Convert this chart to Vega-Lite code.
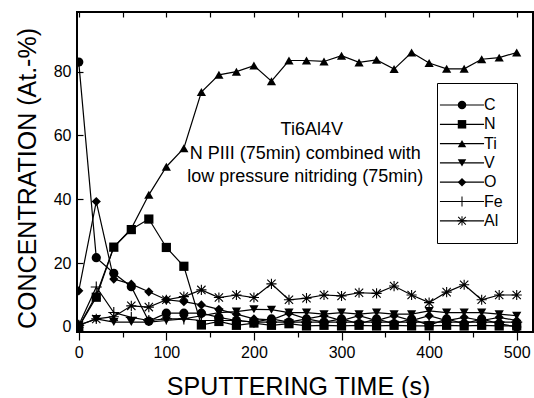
{
  "$schema": "https://vega.github.io/schema/vega-lite/v6.json",
  "width": 456,
  "height": 320,
  "autosize": {"type": "none"},
  "padding": {"left": 77, "top": 12, "right": 1, "bottom": 66},
  "background": "white",
  "config": {
    "font": "Liberation Sans",
    "view": {"stroke": "black", "strokeWidth": 2},
    "axis": {"domain": false, "grid": false, "labelColor": "black", "labelFontSize": 16, "labelFont": "Liberation Sans", "tickColor": "black", "tickWidth": 1.2, "titleColor": "black", "titleFont": "Liberation Sans", "titleFontWeight": "normal", "titleFontSize": 25}
  },
  "datasets": {
    "prof": [
      {"t": 0, "C": 83, "N": 0, "Ti": 0, "V": 0.5, "O": 11.3, "Fe": 0.5, "Al": 0.5},
      {"t": 20, "C": 21.7, "N": 9.3, "Ti": 10, "V": 2.5, "O": 39.3, "Fe": 12.5, "Al": 2.5},
      {"t": 40, "C": 16.8, "N": 25, "Ti": 25, "V": 1.5, "O": 15, "Fe": 4.5, "Al": 3.2},
      {"t": 60, "C": 12.6, "N": 30.5, "Ti": 30.8, "V": 1.5, "O": 13.4, "Fe": 3, "Al": 6.6},
      {"t": 80, "C": 1.8, "N": 33.8, "Ti": 41.4, "V": 1.5, "O": 11, "Fe": 2, "Al": 6.2},
      {"t": 100, "C": 4.3, "N": 24.9, "Ti": 50.2, "V": 2, "O": 8.5, "Fe": 2.5, "Al": 8.5},
      {"t": 120, "C": 4.3, "N": 19, "Ti": 56, "V": 2.5, "O": 7.9, "Fe": 2.5, "Al": 9.5},
      {"t": 140, "C": 4.3, "N": 0.6, "Ti": 73.6, "V": 3.5, "O": 6.9, "Fe": 2, "Al": 11.6},
      {"t": 160, "C": 3, "N": 1.7, "Ti": 79, "V": 4.5, "O": 5.5, "Fe": 2, "Al": 9.2},
      {"t": 180, "C": 2, "N": 0.5, "Ti": 80, "V": 4.8, "O": 4, "Fe": 2, "Al": 10},
      {"t": 200, "C": 1.5, "N": 1.2, "Ti": 81.9, "V": 5.5, "O": 2.5, "Fe": 1.5, "Al": 9.2},
      {"t": 220, "C": 2.5, "N": 0.5, "Ti": 77, "V": 5.4, "O": 2.2, "Fe": 1.5, "Al": 13.5},
      {"t": 240, "C": 1.5, "N": 1, "Ti": 83.5, "V": 4.5, "O": 4.3, "Fe": 1.5, "Al": 8.5},
      {"t": 260, "C": 2.5, "N": 0.3, "Ti": 83.5, "V": 4.5, "O": 2.5, "Fe": 1.5, "Al": 9},
      {"t": 280, "C": 1.5, "N": 0.5, "Ti": 83.2, "V": 4, "O": 3.5, "Fe": 1.5, "Al": 10},
      {"t": 300, "C": 2.5, "N": 0.3, "Ti": 85, "V": 4.5, "O": 2, "Fe": 1.5, "Al": 9.7},
      {"t": 320, "C": 1, "N": 0.5, "Ti": 82.9, "V": 4, "O": 3.5, "Fe": 1.5, "Al": 10.7},
      {"t": 340, "C": 2.5, "N": 0.3, "Ti": 83.7, "V": 4.5, "O": 2, "Fe": 1.5, "Al": 10.5},
      {"t": 360, "C": 1, "N": 0.5, "Ti": 80.8, "V": 4, "O": 3.5, "Fe": 1.5, "Al": 12.8},
      {"t": 380, "C": 2.5, "N": 0.3, "Ti": 86, "V": 4, "O": 2, "Fe": 1.5, "Al": 10},
      {"t": 400, "C": 0.5, "N": 0.3, "Ti": 82.7, "V": 5, "O": 3.5, "Fe": 1.5, "Al": 7.6},
      {"t": 420, "C": 2.5, "N": 0.5, "Ti": 80.9, "V": 4.5, "O": 2, "Fe": 1.5, "Al": 10.9},
      {"t": 440, "C": 1, "N": 0.3, "Ti": 80.9, "V": 4.5, "O": 3, "Fe": 1.5, "Al": 13.2},
      {"t": 460, "C": 2.5, "N": 0.5, "Ti": 83.9, "V": 4.5, "O": 2, "Fe": 1.5, "Al": 8.5},
      {"t": 480, "C": 1, "N": 0.3, "Ti": 84.4, "V": 4, "O": 3, "Fe": 1.5, "Al": 10},
      {"t": 500, "C": 0, "N": 0.3, "Ti": 86, "V": 3.5, "O": 2, "Fe": 1.5, "Al": 10}
    ],
    "note": [
      {"x": 266, "y": 61.8, "txt": "Ti6Al4V"},
      {"x": 258.5, "y": 54.2, "txt": "N PIII (75min) combined with"},
      {"x": 258.5, "y": 47.1, "txt": "low pressure nitriding (75min)"}
    ]
  },
  "layer": [
    {
      "data": {"name": "prof"},
      "transform": [{"fold": ["C", "N", "Ti", "V", "O", "Fe", "Al"], "as": ["series", "v"]}],
      "mark": {"type": "line", "strokeWidth": 1.2, "clip": true},
      "encoding": {
        "x": {"field": "t", "type": "quantitative", "scale": {"domain": [-2, 518.6], "nice": false, "zero": false},
          "axis": {"orient": "bottom", "values": [0, 50, 100, 150, 200, 250, 300, 350, 400, 450, 500],
            "labelExpr": "datum.value % 100 === 0 ? datum.label : ''",
            "tickSize": {"condition": {"test": "datum.value % 100 === 0", "value": 8}, "value": 5},
            "labelPadding": 4, "title": "SPUTTERING TIME (s)", "titlePadding": 14, "titleX": 221}},
        "y": {"field": "v", "type": "quantitative", "scale": {"domain": [-1.6, 98.7], "nice": false, "zero": false},
          "axis": {"orient": "left", "values": [0, 10, 20, 30, 40, 50, 60, 70, 80, 90],
            "labelExpr": "datum.value % 20 === 0 ? datum.label : ''",
            "tickSize": {"condition": {"test": "datum.value % 20 === 0", "value": -6}, "value": -4},
            "labelPadding": 12, "title": "CONCENTRATION (At.-%)", "titlePadding": 13, "titleY": 166}},
        "color": {"field": "series", "type": "nominal", "sort": ["C", "N", "Ti", "V", "O", "Fe", "Al"],
          "scale": {"range": ["black"]},
          "legend": {"orient": "none", "legendX": 360, "legendY": 71, "padding": 14, "title": null,
            "symbolType": "M-5.2,0H5.2", "symbolSize": 72, "symbolOffset": 3, "symbolStrokeColor": "black", "symbolStrokeWidth": 1.2,
            "labelFontSize": 16, "labelOpacity": 0, "labelOffset": 14, "rowPadding": 3.3}}
      }
    },
    {
      "data": {"name": "prof"},
      "transform": [{"fold": ["C", "N", "Ti", "V", "O", "Fe", "Al"], "as": ["series", "v"]}],
      "mark": {"type": "point", "filled": true, "size": 85, "fill": "black", "strokeWidth": 0, "opacity": 1, "clip": true},
      "encoding": {
        "x": {"field": "t", "type": "quantitative", "axis": null},
        "y": {"field": "v", "type": "quantitative"},
        "shape": {"field": "series", "type": "nominal",
          "scale": {"domain": ["C", "N", "Ti", "V", "O", "Fe", "Al"],
            "range": ["circle", "square", "triangle-up", "triangle-down", "diamond",
              "M-1.2,-0.12H1.2V0.12H-1.2ZM0.12,-1.2V1.2H-0.12V-1.2Z",
              "M-1.1,-0.12H1.1V0.12H-1.1ZM0.12,-1.1V1.1H-0.12V-1.1ZM-0.815,-0.985L0.985,0.815L0.815,0.985L-0.985,-0.815ZM-0.985,0.815L0.815,-0.985L0.985,-0.815L-0.815,0.985Z"]},
          "legend": {"orient": "none", "legendX": 360, "legendY": 71, "padding": 14, "title": null,
            "strokeColor": "black",
            "symbolSize": 72, "symbolOffset": 3, "symbolFillColor": "black", "symbolStrokeWidth": 0, "symbolOpacity": 1,
            "labelFontSize": 16, "labelColor": "black", "labelOffset": 14, "rowPadding": 3.3,
            "labelExpr": "datum.label + '\u00a0\u00a0\u00a0'"}}
      }
    },
    {
      "data": {"name": "note"},
      "mark": {"type": "text", "fontSize": 18, "align": "center", "baseline": "middle", "color": "black", "font": "Liberation Sans"},
      "encoding": {
        "x": {"field": "x", "type": "quantitative",
          "axis": {"orient": "top", "values": [0, 50, 100, 150, 200, 250, 300, 350, 400, 450, 500], "labels": false, "tickSize": -5, "title": null}},
        "y": {"field": "y", "type": "quantitative"},
        "text": {"field": "txt"}
      }
    }
  ],
  "resolve": {"axis": {"x": "independent"}}
}
